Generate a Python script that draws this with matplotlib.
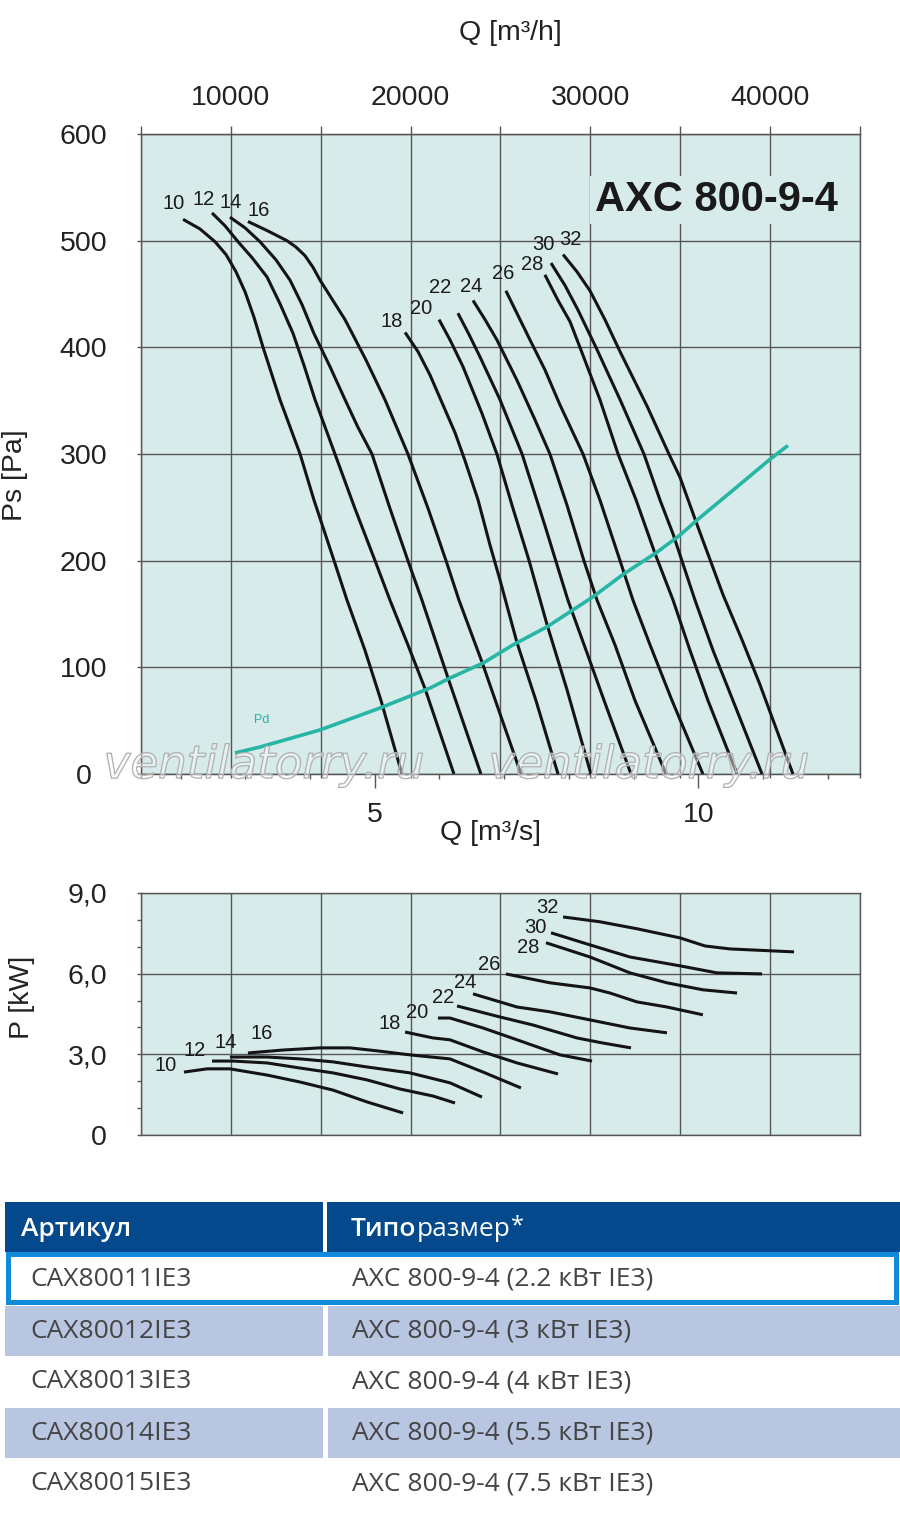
import matplotlib
matplotlib.use("Agg")
import matplotlib.pyplot as plt
import matplotlib.patheffects as pe
from matplotlib import font_manager as fm
from matplotlib.patches import Rectangle
from matplotlib.ticker import FixedLocator, FixedFormatter

# ---------------------------------------------------------------- data
BLADE_ANGLES = [10, 12, 14, 16, 18, 20, 22, 24, 26, 28, 30, 32]

# static pressure curves: Q [m3/h] -> Ps [Pa]
q_ps_10 = [7340, 8280, 9120, 9730, 10280, 10790, 11290, 11790, 12290, 12730, 13850,
           14620, 15740, 16460, 17460, 18350, 19520]
ps_10 = [520, 511, 499, 487, 471, 452, 428, 400, 374, 351, 300,
         257, 200, 163, 116, 69, 0]
q_ps_12 = [8950, 9670, 10400, 11180, 12010, 12730, 13460, 14070, 14680, 15790, 16900,
           18020, 18850, 19850, 20800, 22410]
ps_12 = [526, 514, 499, 484, 466, 441, 413, 383, 351, 300, 249,
         200, 163, 121, 80, 0]
q_ps_14 = [9950, 10790, 11620, 12510, 13290, 13960, 14620, 15510, 16350, 17070, 17850,
           18850, 19850, 20630, 22080, 23910]
ps_14 = [522, 512, 499, 482, 463, 440, 413, 382, 351, 325, 300,
         249, 200, 163, 90, 0]
q_ps_16 = [10950, 12070, 13120, 13620, 14120, 14570, 14960, 16350, 17520, 18570, 19850,
           20970, 21970, 22690, 23970, 26140]
ps_16 = [518, 509, 500, 494, 486, 475, 463, 426, 388, 351, 300,
         249, 200, 163, 105, 0]
q_ps_18 = [19690, 20410, 21080, 21800, 22470, 23020, 23750, 24410, 24970, 25920, 26970, 28200]
ps_18 = [414, 396, 374, 346, 320, 294, 257, 215, 182, 123, 69, 0]
q_ps_20 = [21580, 22190, 22910, 23970, 24800, 25640, 26590, 27590, 28700, 30030]
ps_20 = [426, 407, 382, 338, 300, 252, 200, 140, 79, 0]
q_ps_22 = [22630, 23250, 23860, 24970, 26200, 27470, 28750, 29760, 30760, 32260]
ps_22 = [432, 412, 391, 351, 300, 233, 163, 116, 69, 0]
q_ps_24 = [23470, 24140, 24800, 25920, 26920, 27750, 28700, 29640, 30370, 31370, 32480, 34210]
ps_24 = [444, 426, 407, 369, 332, 300, 252, 200, 163, 121, 69, 0]
q_ps_26 = [25300, 25970, 26640, 27470, 28310, 29590, 30530, 31650, 32370, 33320, 34540, 36260]
ps_26 = [453, 430, 407, 379, 346, 300, 257, 200, 163, 121, 69, 0]
q_ps_28 = [27470, 28200, 28870, 29420, 30530, 31540, 32540, 33590, 34600, 35540, 36540, 38160]
ps_28 = [468, 444, 424, 400, 351, 300, 257, 207, 163, 116, 69, 0]
q_ps_30 = [27810, 28590, 29310, 30310, 31650, 32980, 33870, 34600, 35820, 36820, 37930, 39550]
ps_30 = [479, 458, 435, 400, 351, 300, 257, 225, 163, 116, 69, 0]
q_ps_32 = [28480, 29250, 29980, 30810, 31650, 33150, 34370, 34990, 35930, 37380, 38430, 39430, 41270]
ps_32 = [487, 471, 453, 426, 396, 345, 300, 278, 234, 168, 126, 84, 0]

# dynamic pressure curve Pd
q_pd = [10230, 11620, 14960, 18300, 21080, 22190, 24030, 25690, 27590, 30140,
        31810, 33710, 34990, 35930, 37930, 39990, 40990]
pd_vals = [19.7, 25.3, 41.3, 61.9, 80.6, 90.0, 104, 121, 138, 166,
           187, 208, 224, 238, 266, 295, 308]

# shaft power curves: Q [m3/h] -> P [kW]
q_kw_10 = [7390, 8670, 9950, 12010, 13850, 15680, 17570, 19580]
kw_10 = [2.34, 2.46, 2.46, 2.23, 1.97, 1.67, 1.23, 0.82]
q_kw_12 = [8950, 10120, 12010, 13850, 15680, 17570, 19410, 21240, 22470]
kw_12 = [2.75, 2.75, 2.68, 2.49, 2.31, 2.05, 1.71, 1.45, 1.19]
q_kw_14 = [9950, 12010, 13850, 15680, 17570, 19960, 22190, 23970]
kw_14 = [2.90, 2.90, 2.83, 2.72, 2.53, 2.31, 1.94, 1.41]
q_kw_16 = [10950, 12900, 14960, 16630, 18130, 19960, 22190, 24030, 26140]
kw_16 = [3.05, 3.16, 3.24, 3.24, 3.13, 2.98, 2.83, 2.34, 1.75]
q_kw_18 = [19690, 21240, 22190, 24030, 25920, 28200]
kw_18 = [3.83, 3.61, 3.54, 3.09, 2.68, 2.27]
q_kw_20 = [21520, 22190, 24030, 25920, 28310, 30090]
kw_20 = [4.35, 4.35, 3.98, 3.54, 2.98, 2.75]
q_kw_22 = [22580, 24970, 26810, 29250, 30700, 32260]
kw_22 = [4.80, 4.39, 4.09, 3.61, 3.42, 3.24]
q_kw_24 = [23470, 25920, 27750, 29980, 32200, 34260]
kw_24 = [5.25, 4.76, 4.58, 4.28, 3.98, 3.80]
q_kw_26 = [25300, 27750, 29980, 31090, 32590, 34260, 36260]
kw_26 = [5.99, 5.66, 5.47, 5.28, 4.95, 4.76, 4.47]
q_kw_28 = [27530, 29980, 32200, 34260, 36260, 38160]
kw_28 = [7.15, 6.62, 6.03, 5.66, 5.40, 5.28]
q_kw_30 = [27810, 29980, 32200, 34990, 37040, 39550]
kw_30 = [7.52, 7.07, 6.62, 6.29, 6.03, 5.99]
q_kw_32 = [28480, 30530, 32590, 34990, 36380, 37770, 41330]
kw_32 = [8.11, 7.93, 7.67, 7.33, 7.03, 6.92, 6.81]

# axes ticks / labels
Q_H_TICKS = [5000, 10000, 15000, 20000, 25000, 30000, 35000, 40000, 45000]
Q_H_LABELS = ["", "10000", "", "20000", "", "30000", "", "40000", ""]
PS_TICKS = [0, 100, 200, 300, 400, 500, 600]
Q_S_MAJOR = [5, 10]
Q_S_MINOR = [2, 3, 4, 6, 7, 8, 9, 11, 12]
KW_TICKS = [0, 3, 6, 9]
KW_LABELS = ["0", "3,0", "6,0", "9,0"]
KW_MINOR = [1, 2, 4, 5, 7, 8]

TITLE = "AXC 800-9-4"
TABLE_ART = ["CAX80011IE3", "CAX80012IE3", "CAX80013IE3", "CAX80014IE3", "CAX80015IE3"]
TABLE_SIZE = ["AXC 800-9-4 (2.2 кВт IE3)", "AXC 800-9-4 (3 кВт IE3)",
              "AXC 800-9-4 (4 кВт IE3)", "AXC 800-9-4 (5.5 кВт IE3)",
              "AXC 800-9-4 (7.5 кВт IE3)"]
WATERMARK = "ventilatorry.ru"

PS_CURVES = [(q_ps_10, ps_10), (q_ps_12, ps_12), (q_ps_14, ps_14), (q_ps_16, ps_16),
             (q_ps_18, ps_18), (q_ps_20, ps_20), (q_ps_22, ps_22), (q_ps_24, ps_24),
             (q_ps_26, ps_26), (q_ps_28, ps_28), (q_ps_30, ps_30), (q_ps_32, ps_32)]
KW_CURVES = [(q_kw_10, kw_10), (q_kw_12, kw_12), (q_kw_14, kw_14), (q_kw_16, kw_16),
             (q_kw_18, kw_18), (q_kw_20, kw_20), (q_kw_22, kw_22), (q_kw_24, kw_24),
             (q_kw_26, kw_26), (q_kw_28, kw_28), (q_kw_30, kw_30), (q_kw_32, kw_32)]

# label offsets (pixels) from curve start
PS_LABEL_OFF = [(-9, 16), (-8, 13), (1, 15), (11, 11), (-13, 11), (-18, 11),
                (-18, 26), (-2, 14), (-3, 17), (-13, 10), (-8, 19), (7, 15)]
KW_LABEL_OFF = [(-18, 7), (-17, 11), (-4, 15), (14, 19), (-15, 9), (-21, 6),
                (-14, 8), (-8, 11), (-17, 9), (-18, -5), (-16, 5), (-16, 9)]

# ---------------------------------------------------------------- fonts
def pick(cands, default):
    for c in cands:
        try:
            fm.findfont(fm.FontProperties(family=c), fallback_to_default=False)
            return c
        except Exception:
            pass
    return default

SANS = pick(["Liberation Sans", "Arial"], "DejaVu Sans")
TABF = pick(["Open Sans", "Noto Sans"], "DejaVu Sans")
plt.rcParams["font.family"] = [SANS, "DejaVu Sans"]

W, H = 900, 1517
PT = 72 / 100.0           # points per pixel
BG = "#d7ecea"
GRID = "#555555"
TXT = "#222222"
TEAL = "#27b5a6"

def fx(px):
    return px / W

def fy(py):
    return 1 - py / H

fig = plt.figure(figsize=(W / 100, H / 100), dpi=100)
fig.patch.set_facecolor("white")

# ---------------------------------------------------------------- top chart
ax1 = fig.add_axes([fx(141), fy(774), (860 - 141) / W, (774 - 134) / H])
ax1.set_facecolor(BG)
ax1.set_xlim(5000, 45000)
ax1.set_ylim(0, 600)
ax1.set_axisbelow(True)
for s in ax1.spines.values():
    s.set_color(GRID)
    s.set_linewidth(1.0)

ax1.xaxis.set_major_locator(FixedLocator(Q_H_TICKS))
ax1.tick_params(axis="x", which="major", bottom=True, labelbottom=False,
                length=4 * PT, width=1, color=GRID, direction="out")
ax1.set_yticks(PS_TICKS)
ax1.tick_params(axis="y", length=4 * PT, width=1, color=GRID, labelsize=20.5,
                labelcolor=TXT, pad=38.5)
for lab in ax1.get_yticklabels():
    lab.set_horizontalalignment("center")
ax1.grid(True, color=GRID, linewidth=1.0)

sec_top = ax1.secondary_xaxis("top", functions=(lambda q: q, lambda q: q))
sec_top.xaxis.set_major_locator(FixedLocator(Q_H_TICKS))
sec_top.xaxis.set_major_formatter(FixedFormatter(Q_H_LABELS))
sec_top.tick_params(axis="x", length=8 * PT, width=1, color=GRID, labelsize=20.5,
                    labelcolor=TXT, pad=10.5)
sec_top.spines["top"].set_color(GRID)

sec_bot = ax1.secondary_xaxis("bottom", functions=(lambda q: q / 3600.0, lambda s: s * 3600.0))
sec_bot.xaxis.set_major_locator(FixedLocator(Q_S_MAJOR))
sec_bot.xaxis.set_minor_locator(FixedLocator(Q_S_MINOR))
sec_bot.tick_params(axis="x", which="major", length=14 * PT, width=1, color=GRID,
                    labelsize=20.5, labelcolor=TXT, pad=10)
sec_bot.tick_params(axis="x", which="minor", length=5 * PT, width=1, color=GRID)
sec_bot.spines["bottom"].set_color(GRID)

for (q, p), n, off in zip(PS_CURVES, BLADE_ANGLES, PS_LABEL_OFF):
    ax1.plot(q, p, color="#141414", lw=2.2, solid_capstyle="butt",
             solid_joinstyle="round", zorder=3)
    ax1.annotate(str(n), xy=(q[0], p[0]), xytext=off, textcoords="offset pixels",
                 ha="center", va="center", fontsize=14.5, color="#1a1a1a", zorder=4)

ax1.plot(q_pd, pd_vals, color=TEAL, lw=2.6, solid_capstyle="butt",
         solid_joinstyle="round", zorder=3)

# ---------------------------------------------------------------- bottom chart
ax2 = fig.add_axes([fx(141), fy(1135), (860 - 141) / W, (1135 - 893) / H])
ax2.set_facecolor(BG)
ax2.set_xlim(5000, 45000)
ax2.set_ylim(0, 9)
ax2.set_axisbelow(True)
for s in ax2.spines.values():
    s.set_color(GRID)
    s.set_linewidth(1.0)
ax2.xaxis.set_major_locator(FixedLocator(Q_H_TICKS))
ax2.tick_params(axis="x", bottom=False, labelbottom=False)
ax2.yaxis.set_major_locator(FixedLocator(KW_TICKS))
ax2.yaxis.set_major_formatter(FixedFormatter(KW_LABELS))
ax2.yaxis.set_minor_locator(FixedLocator(KW_MINOR))
ax2.tick_params(axis="y", which="major", length=4 * PT, width=1, color=GRID,
                labelsize=20.5, labelcolor=TXT, pad=21.5)
ax2.tick_params(axis="y", which="minor", length=4 * PT, width=1, color=GRID)
ax2.grid(True, which="major", color=GRID, linewidth=1.0)

for (q, p), n, off in zip(KW_CURVES, BLADE_ANGLES, KW_LABEL_OFF):
    ax2.plot(q, p, color="#141414", lw=2.2, solid_capstyle="butt",
             solid_joinstyle="round", zorder=3)
    ax2.annotate(str(n), xy=(q[0], p[0]), xytext=off, textcoords="offset pixels",
                 ha="center", va="center", fontsize=14.5, color="#1a1a1a", zorder=4)

# ---------------------------------------------------------------- overlay (pixel coords)
ov = fig.add_axes([0, 0, 1, 1], zorder=5)
ov.set_xlim(0, W)
ov.set_ylim(H, 0)
ov.axis("off")

ov.text(510, 33, "Q [m³/h]", ha="center", va="center", fontsize=20.5, color=TXT)
ov.text(490, 833, "Q [m³/s]", ha="center", va="center", fontsize=20.5, color=TXT)
ov.text(15, 475, "Ps [Pa]", ha="center", va="center", rotation=90, fontsize=20.5, color=TXT)
ov.text(22, 997, "P [kW]", ha="center", va="center", rotation=90, fontsize=20.5, color=TXT)
ov.text(716, 211, TITLE, ha="center", va="baseline", fontsize=30, fontweight="bold",
        color="#1a1a1a", bbox=dict(facecolor=BG, edgecolor="none", pad=3))
ov.text(262, 720, "Pd", ha="center", va="center", fontsize=9, color=TEAL)

for cx in (264, 649):
    ov.text(cx, 778, WATERMARK, ha="center", va="baseline", fontsize=32.5,
            family="DejaVu Sans", style="oblique", color=(1, 1, 1, 0.25),
            path_effects=[pe.Stroke(linewidth=1.0, foreground="#aaaaaa"), pe.Normal()])

# table
HEAD_BG = "#03498b"
ROW_BG = "#b8c6e1"
BORDER = "#0f8bdb"
ov.add_patch(Rectangle((5, 1202), 895, 49.5, facecolor=HEAD_BG, edgecolor="none"))
ov.add_patch(Rectangle((323, 1202), 4, 49.5, facecolor="white", edgecolor="none"))
ov.add_patch(Rectangle((7.5, 1253.5), 888.5, 48, facecolor="white", edgecolor=BORDER,
                       linewidth=5 * PT))
for top in (1305.5, 1407.5):
    ov.add_patch(Rectangle((5, top), 318, 50.5, facecolor=ROW_BG, edgecolor="none"))
    ov.add_patch(Rectangle((328, top), 572, 50.5, facecolor=ROW_BG, edgecolor="none"))

ov.text(21, 1229, "Артикул", ha="left", va="center", fontsize=19, family=TABF,
        fontweight="semibold", color="white")
t1 = ov.text(351, 1229, "Типо", ha="left", va="center", fontsize=19, family=TABF,
             fontweight="semibold", color="white")
t2 = ov.annotate("размер", xy=(1, 0), xycoords=t1, ha="left", va="bottom", fontsize=19,
                 family=TABF, color="white")
ov.annotate("*", xy=(1, 1), xycoords=t2, xytext=(1, 2), textcoords="offset pixels",
            ha="left", va="top", fontsize=17, family=TABF, color="white")

row_y = [1279, 1331, 1382, 1433, 1484]
for y, a, s in zip(row_y, TABLE_ART, TABLE_SIZE):
    ov.text(30, y, a, ha="left", va="center", fontsize=19, family=TABF, color="#444444")
    ov.text(352, y, s, ha="left", va="center", fontsize=19, family=TABF, color="#444444")

fig.savefig("out.png", dpi=100, facecolor="white")
